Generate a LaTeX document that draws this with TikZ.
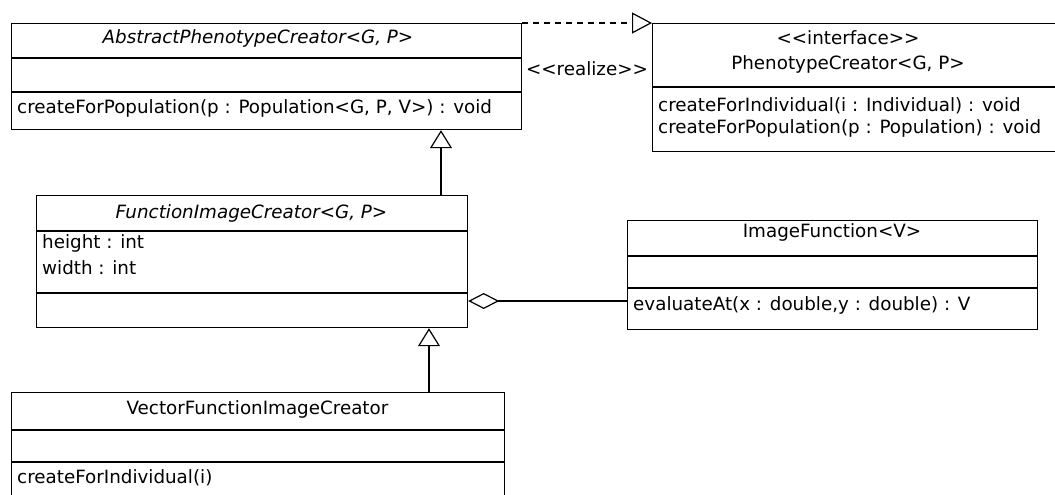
\documentclass[tikz,border=0pt]{standalone}
\usepackage{fontspec}
\setmainfont{DejaVu Sans}[Ligatures=TeXOff]
\usetikzlibrary{arrows.meta,calc}

\tikzset{
  classbox/.style={draw, line width=1.2pt, rectangle, inner sep=0pt, anchor=north west},
  divider/.style={line width=2.8pt},
  lbl/.style={inner sep=0pt, font=\fontsize{18.3}{21}\selectfont},
  member/.style={lbl, anchor=west},
  gen/.style={line width=1.2pt, -{Triangle[open, length=18pt, width=22pt, line width=1.2pt]}},
  realize/.style={line width=1.2pt, dash pattern=on 6pt off 5pt, -{Triangle[open, length=20pt, width=21pt, line width=1.2pt]}},
  aggr/.style={line width=1.2pt, {Diamond[open, length=31pt, width=16pt, line width=1.2pt]}-},
}

\begin{document}
\begin{tikzpicture}[x=1pt, y=-1pt]
\useasboundingbox (0,0) rectangle (1055,495);
\clip (0,0) rectangle (1055,495);

% AbstractPhenotypeCreator
\node[classbox, minimum width=510pt, minimum height=106pt] (apc) at (11,23) {};
\draw[divider] ($(apc.north west)+(0,35)$) -- ($(apc.north east)+(0,35)$);
\draw[divider] ($(apc.north west)+(0,69)$) -- ($(apc.north east)+(0,69)$);
\node[lbl] (apcname) at (258,38) {\itshape AbstractPhenotypeCreator<G, P>};
\node[member] (apcop) at (17,108) {createForPopulation(p : Population<G, P, V>) : void};

% PhenotypeCreator interface (runs past the right edge)
\node[classbox, minimum width=410pt, minimum height=128pt] (pc) at (652,23) {};
\draw[divider] ($(pc.north west)+(0,64)$) -- ($(pc.north east)+(0,64)$);
\node[lbl] (pcstereo) at (848,38) {<<interface>>};
\node[lbl] (pcname) at (848,64) {PhenotypeCreator<G, P>};
\node[member] (pcop1) at (658,106) {createForIndividual(i : Individual) : void};
\node[member] (pcop2) at (658,128) {createForPopulation(p : Population) : void};

% FunctionImageCreator
\node[classbox, minimum width=431pt, minimum height=132pt] (fic) at (36,195) {};
\draw[divider] ($(fic.north west)+(0,36)$) -- ($(fic.north east)+(0,36)$);
\draw[divider] ($(fic.north west)+(0,98)$) -- ($(fic.north east)+(0,98)$);
\node[lbl] (ficname) at (251.5,213) {\itshape FunctionImageCreator<G, P>};
\node[member] (ficat1) at (42,243) {height : int};
\node[member] (ficat2) at (42,268) {width : int};

% ImageFunction
\node[classbox, minimum width=410pt, minimum height=109pt] (imf) at (627,220) {};
\draw[divider] ($(imf.north west)+(0,36)$) -- ($(imf.north east)+(0,36)$);
\draw[divider] ($(imf.north west)+(0,68)$) -- ($(imf.north east)+(0,68)$);
\node[lbl] (imfname) at (832,232) {ImageFunction<V>};
\node[member] (imfop) at (633,305) {evaluateAt(x : double,y : double) : V};

% VectorFunctionImageCreator (runs past the bottom edge)
\node[classbox, minimum width=493pt, minimum height=120pt] (vfc) at (11,392) {};
\draw[divider] ($(vfc.north west)+(0,38)$) -- ($(vfc.north east)+(0,38)$);
\draw[divider] ($(vfc.north west)+(0,70)$) -- ($(vfc.north east)+(0,70)$);
\node[lbl] (vfcname) at (257.5,409) {VectorFunctionImageCreator};
\node[member] (vfcop) at (17,478) {createForIndividual(i)};

% Relations
\draw[realize] (apc.north east) -- (pc.north west);
\node[lbl] (realizelbl) at (587,69) {<<realize>>};

\coordinate (g1) at ($(fic.north west)+(405,0)$);
\draw[gen] (g1) -- (g1 |- apc.south);
\coordinate (g2) at ($(vfc.north west)+(418,0)$);
\draw[gen] (g2) -- (g2 |- fic.south);

\coordinate (aggend) at ($(fic.north east)+(0,106)$);
\draw[aggr] (aggend) -- (aggend -| imf.west);
\end{tikzpicture}
\end{document}
